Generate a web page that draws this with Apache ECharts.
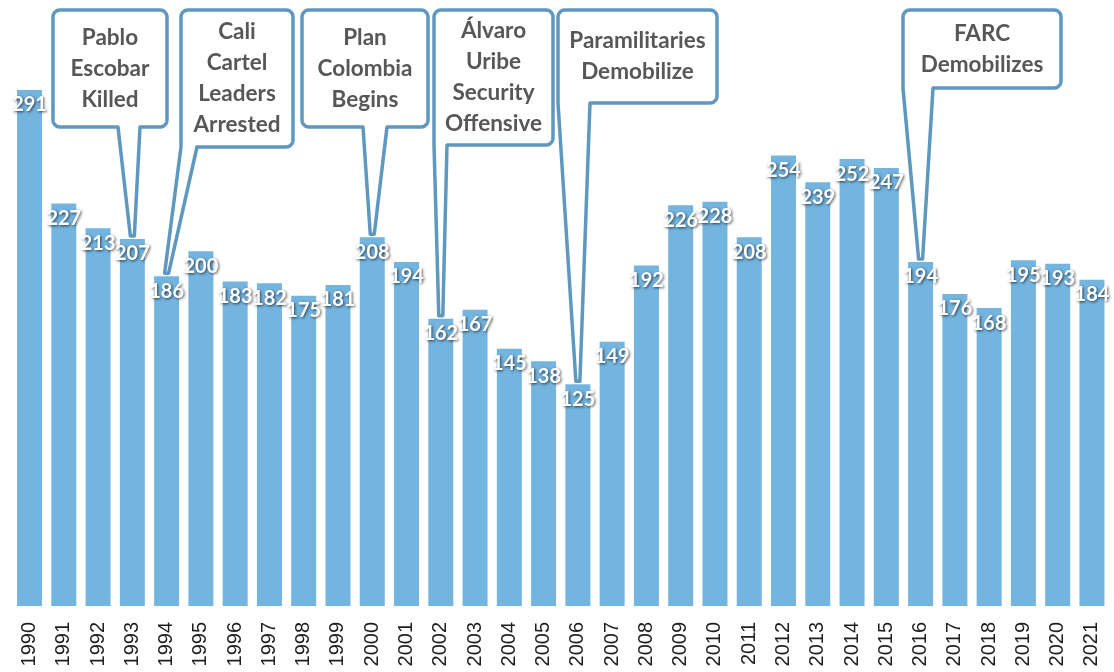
<!DOCTYPE html>
<html>
<head>
<meta charset="utf-8">
<script src="https://cdn.jsdelivr.net/npm/echarts@6/dist/echarts.min.js"></script>
<style>
html,body{margin:0;padding:0;background:#fff;}
#chart{width:1114px;height:672px;}
</style>
</head>
<body>
<div id="chart"></div>
<script>
const years = ['1990','1991','1992','1993','1994','1995','1996','1997','1998','1999','2000','2001','2002','2003','2004','2005','2006','2007','2008','2009','2010','2011','2012','2013','2014','2015','2016','2017','2018','2019','2020','2021'];
const values = [291,227,213,207,186,200,183,182,175,181,208,194,162,167,145,138,125,149,192,226,228,208,254,239,252,247,194,176,168,195,193,184];

const eventYears = ['1993','1994','2000','2002','2006','2016'];
const eventTexts = ['Pablo\nEscobar\nKilled','Cali\nCartel\nLeaders\nArrested','Plan\nColombia\nBegins','Álvaro\nUribe\nSecurity\nOffensive','Paramilitaries\nDemobilize','FARC\nDemobilizes'];

// layout of callout boxes (pixels): [left, top, right, bottom], tail base [left,right], tail from left corner
const calloutLayout = [
  {box:[53,10,167,127], base:[118,140], corner:false},
  {box:[181,10,293,147], base:[181,197], corner:true},
  {box:[302,10,428,127], base:[363,387], corner:false},
  {box:[434,10,553,145], base:[434,447], corner:true},
  {box:[558,10,717,103], base:[558,590], corner:true},
  {box:[903,10,1061,88], base:[903,933], corner:true}
];

const chart = echarts.init(document.getElementById('chart'));
const option = {
  animation:false,
  backgroundColor:'#ffffff',
  grid:{left:12.4, right:4.9, top:74, bottom:66, containLabel:false},
  xAxis:{
    type:'category',
    data:years,
    axisLine:{show:false},
    axisTick:{show:false},
    axisLabel:{interval:0, rotate:90, margin:16, fontSize:20, color:'#1e1e1e', fontFamily:'Liberation Sans, Arial, sans-serif'}
  },
  yAxis:{type:'value', min:0, max:300, show:false, splitLine:{show:false}},
  series:[{
    type:'bar',
    data:values,
    barWidth:25,
    itemStyle:{color:'#74b5e0'},
    label:{
      show:true,
      position:'insideTop',
      distance:5,
      color:'#ffffff',
      fontSize:20,
      fontWeight:'bold',
      fontFamily:'Lato, sans-serif',
      textShadowColor:'rgba(0,0,0,0.7)',
      textShadowBlur:3,
      textShadowOffsetX:1,
      textShadowOffsetY:1
    }
  }]
};
chart.setOption(option);

function arc(cx, cy, r, a0, a1, pts){
  const n = 6;
  for (let k = 0; k <= n; k++) {
    const a = a0 + (a1 - a0) * k / n;
    pts.push([cx + r * Math.cos(a), cy + r * Math.sin(a)]);
  }
}

function calloutPoints(L, tip){
  const [x0,y0,x1,y1] = L.box; const r = 7;
  const [bl,br] = L.base;
  const tx = tip[0], ty = tip[1];
  const P = Math.PI;
  const pts = [];
  arc(x1-r, y0+r, r, -P/2, 0, pts);          // top-right
  arc(x1-r, y1-r, r, 0, P/2, pts);           // bottom-right
  pts.push([br, y1]);
  pts.push([tx+2, ty]);
  pts.push([tx-2, ty]);
  if (L.corner) {
    pts.push([x0, y1]);
  } else {
    pts.push([bl, y1]);
    arc(x0+r, y1-r, r, P/2, P, pts);        // bottom-left
  }
  arc(x0+r, y0+r, r, P, 1.5*P, pts);         // top-left
  return pts;
}

const graphics = [];
eventYears.forEach((yr, i) => {
  const idx = years.indexOf(yr);
  const p = chart.convertToPixel({xAxisIndex:0, yAxisIndex:0}, [yr, values[idx]]);
  const L = calloutLayout[i];
  const tip = [p[0], p[1] - 3];
  graphics.push({
    type:'polygon', z:100,
    shape:{points: calloutPoints(L, tip)},
    style:{fill:'#ffffff', stroke:'#5f98be', lineWidth:3.5, lineJoin:'round'}
  });
  graphics.push({
    type:'text', z:101,
    x:(L.box[0]+L.box[2])/2, y:(L.box[1]+L.box[3])/2,
    style:{text:eventTexts[i], fill:'#575757', fontSize:22.5, fontWeight:'bold', fontFamily:'Lato, sans-serif', align:'center', verticalAlign:'middle', lineHeight:31}
  });
});
chart.setOption({graphic:graphics});
</script>
</body>
</html>
